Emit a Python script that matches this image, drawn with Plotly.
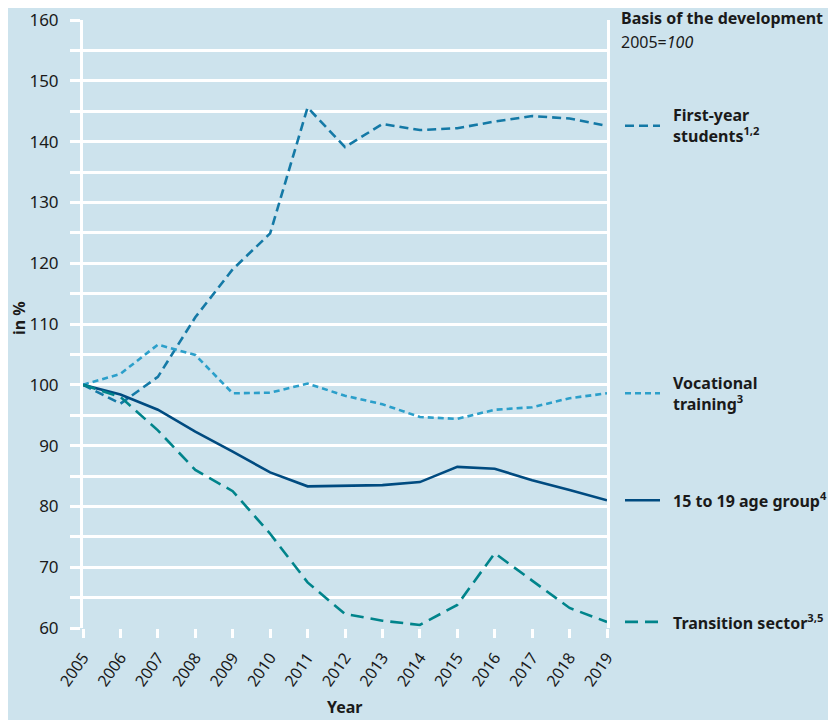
import plotly.graph_objects as go

years = list(range(2005, 2020))
first_year = [100, 96.9, 101.3, 111.1, 119.0, 124.9, 145.6, 139.1, 142.9, 141.9, 142.2, 143.3, 144.2, 143.8, 142.6]
vocational = [100, 101.8, 106.6, 104.9, 98.6, 98.7, 100.2, 98.2, 96.8, 94.7, 94.4, 95.9, 96.3, 97.8, 98.6]
age_group = [100, 98.4, 95.9, 92.3, 89.0, 85.6, 83.3, 83.4, 83.5, 84.0, 86.5, 86.2, 84.3, 82.7, 81.0]
transition = [100, 98.0, 92.5, 86.0, 82.5, 75.5, 67.5, 62.3, 61.2, 60.5, 63.8, 72.3, 67.8, 63.3, 61.0]

series_names = ["First-year<br>students<sup>1,2</sup>", "Vocational<br>training<sup>3</sup>",
                "15 to 19 age group<sup>4</sup>", "Transition sector<sup>3,5</sup>"]
series_values = [first_year, vocational, age_group, transition]
colors = ["#1479a6", "#2b9fca", "#004b80", "#00848b"]
dashes = ["9px,5px", "6px,4px", "solid", "13px,7px"]

BG = "#cde3ed"
FONT = "Noto Sans"
TXT = "#1a1a1a"

fig = go.Figure()
for name, vals, c, d in zip(series_names, series_values, colors, dashes):
    fig.add_trace(go.Scatter(x=years, y=vals, mode="lines", name=name,
                             line=dict(color=c, width=2.6, dash=d),
                             showlegend=False, cliponaxis=False))

# page body has an 8px margin; figure is sized/offset accordingly
OFF = 8
W, H = 836 - OFF, 720 - OFF
PL, PR, PT, PB = 83, 607, 20, 628  # plot area in screen pixels
L, T = PL - OFF, PT - OFF
R, B = 836 - PR, 720 - PB
pw = PR - PL
ph = PB - PT

def px_x(px):
    return (px - PL) / pw

def px_y(py):
    return (PB - py) / ph

annotations = []
shapes = []
for name, vals, c, d in zip(series_names, series_values, colors, dashes):
    last = vals[-1]
    yp = (last - 60) / 100
    shapes.append(dict(type="line", xref="paper", yref="paper",
                       x0=px_x(625), x1=px_x(660), y0=yp, y1=yp,
                       line=dict(color=c, width=2.6, dash=d)))
    annotations.append(dict(xref="paper", yref="y", x=px_x(671), y=last,
                            text="<b>" + name + "</b>", showarrow=False,
                            xanchor="left", yanchor="middle", align="left",
                            font=dict(family=FONT, size=16, color=TXT)))

annotations.append(dict(xref="paper", yref="paper", x=px_x(619), y=px_y(18),
                        text="<b>Basis of the development</b>", showarrow=False,
                        xanchor="left", yanchor="middle",
                        font=dict(family=FONT, size=16, color=TXT)))
annotations.append(dict(xref="paper", yref="paper", x=px_x(619), y=px_y(42),
                        text="2005=<i>100</i>", showarrow=False,
                        xanchor="left", yanchor="middle",
                        font=dict(family=FONT, size=16, color=TXT)))
annotations.append(dict(xref="paper", yref="paper", x=0.5, y=px_y(707),
                        text="<b>Year</b>", showarrow=False,
                        xanchor="center", yanchor="middle",
                        font=dict(family=FONT, size=16, color=TXT)))
annotations.append(dict(xref="paper", yref="paper", x=px_x(19), y=px_y(318),
                        text="<b>in %</b>", showarrow=False, textangle=-90,
                        xanchor="center", yanchor="middle",
                        font=dict(family=FONT, size=16, color=TXT)))

fig.update_layout(
    width=W, height=H,
    margin=dict(l=L, r=R, t=T, b=B, pad=0, autoexpand=False),
    paper_bgcolor=BG, plot_bgcolor=BG,
    font=dict(family=FONT, size=16, color=TXT),
    annotations=annotations, shapes=shapes,
)
fig.update_xaxes(range=[2005, 2019], tick0=2005, dtick=1, automargin=False,
                 tickangle=-55, ticks="outside", ticklen=9, tickwidth=2.5, tickcolor="white",
                 showgrid=False, zeroline=False, showline=False,
                 ticklabelstandoff=4, ticklabeloverflow="allow",
                 tickfont=dict(family=FONT, size=16, color=TXT))
fig.update_yaxes(range=[60, 160], tick0=60, dtick=10, automargin=False,
                 ticks="outside", ticklen=10, tickwidth=2.5, tickcolor="white",
                 showgrid=True, gridcolor="white", gridwidth=2.5,
                 minor=dict(dtick=5, ticks="outside", ticklen=10, tickwidth=2.5, tickcolor="white",
                            showgrid=True, gridcolor="white", gridwidth=2.5),
                 zeroline=False, showline=True, linecolor="white", linewidth=3, mirror=True,
                 ticklabelstandoff=8, ticklabeloverflow="allow",
                 tickfont=dict(family=FONT, size=17, color=TXT))

fig.write_html("out.html")
